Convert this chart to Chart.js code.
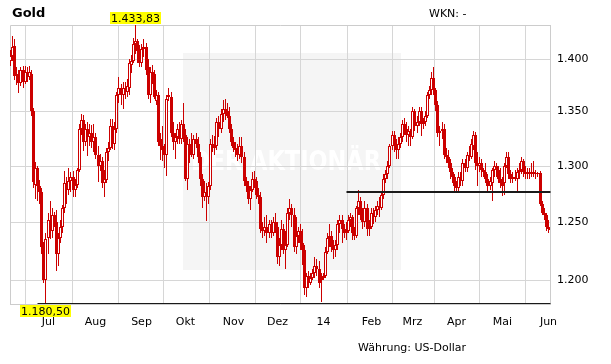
<!DOCTYPE html>
<html>
<head>
<meta charset="utf-8">
<script src="https://cdn.jsdelivr.net/npm/chart.js@4.4.1/dist/chart.umd.min.js"></script>
<style>
  html, body { margin: 0; padding: 0; background: #fff; }
  canvas { display: block; }
</style>
</head>
<body>
<canvas id="myChart" width="611" height="364" style="width:611px;height:364px"></canvas>
<script>

// Gold, daily candles, 05.06.2013 - 03.06.2014 (weekdays)
var openP = [
  1398,1403,1413,1384,1386,1377,1390,1378,1388,1383,
  1386,1350,1283,1298,1282,1276,1228,1200,1236,1252,
  1242,1256,1250,1222,1236,1246,1262,1284,1278,1286,
  1290,1278,1283,1296,1334,1342,1322,1334,1326,1330,
  1322,1326,1310,1300,1304,1284,1287,1312,1316,1336,
  1320,1334,1366,1372,1366,1372,1368,1372,1394,1398,
  1415,1418,1408,1396,1410,1412,1392,1366,1388,1386,
  1360,1366,1324,1318,1314,1310,1366,1364,1330,1322,
  1326,1334,1324,1338,1328,1288,1320,1316,1310,1324,
  1320,1308,1288,1272,1276,1272,1282,1320,1316,1318,
  1340,1334,1348,1352,1350,1346,1334,1322,1316,1314,
  1310,1318,1308,1286,1282,1270,1278,1288,1286,1274,
  1272,1244,1242,1246,1240,1248,1240,1250,1246,1220,
  1230,1244,1226,1230,1258,1262,1256,1228,1238,1242,
  1232,1226,1194,1204,1198,1202,1206,1212,1210,1200,
  1202,1204,1224,1236,1238,1228,1226,1230,1248,1252,
  1244,1240,1242,1252,1254,1240,1238,1262,1268,1256,
  1250,1262,1244,1246,1258,1254,1260,1264,1262,1274,
  1288,1292,1300,1318,1328,1320,1314,1320,1326,1338,
  1334,1328,1332,1326,1350,1336,1340,1350,1338,1340,
  1346,1366,1370,1382,1370,1356,1330,1332,1334,1310,
  1308,1302,1294,1290,1282,1280,1290,1286,1302,1298,
  1310,1308,1318,1328,1302,1300,1302,1296,1294,1288,
  1282,1284,1296,1300,1296,1288,1284,1284,1300,1308,
  1292,1288,1290,1288,1294,1296,1304,1294,1292,1294,
  1292,1294,1292,1292,1293,1266,1258,1256,1246,1244
];
var highP = [
  1409,1423,1420,1392,1390,1392,1393,1393,1392,1393,
  1390,1353,1303,1300,1287,1280,1233,1240,1258,1268,
  1262,1259,1260,1240,1252,1265,1295,1290,1298,1294,
  1295,1288,1298,1338,1348,1347,1338,1340,1338,1337,
  1338,1330,1318,1311,1308,1296,1316,1322,1343,1343,
  1340,1368,1383,1376,1378,1378,1381,1400,1404,1421,
  1433.83,1420,1414,1415,1420,1416,1400,1392,1394,1390,
  1370,1368,1330,1336,1320,1366,1372,1368,1340,1330,
  1338,1340,1342,1358,1334,1326,1324,1330,1328,1330,
  1326,1312,1292,1286,1284,1285,1324,1328,1327,1344,
  1346,1352,1361,1362,1358,1354,1338,1326,1322,1320,
  1326,1326,1312,1290,1286,1282,1294,1295,1290,1280,
  1276,1250,1254,1256,1252,1252,1254,1258,1250,1236,
  1252,1248,1242,1262,1270,1266,1262,1254,1246,1248,
  1244,1230,1206,1208,1206,1210,1220,1218,1216,1206,
  1206,1228,1240,1248,1242,1234,1234,1252,1256,1256,
  1248,1250,1256,1258,1256,1246,1264,1278,1272,1262,
  1268,1266,1252,1262,1262,1264,1268,1272,1276,1292,
  1296,1304,1320,1332,1332,1324,1326,1330,1342,1344,
  1340,1336,1334,1354,1352,1346,1354,1354,1344,1350,
  1368,1374,1388,1392,1372,1360,1336,1340,1338,1316,
  1314,1306,1298,1292,1286,1294,1294,1306,1306,1312,
  1318,1324,1332,1331,1312,1308,1306,1298,1302,1292,
  1290,1298,1304,1302,1300,1298,1290,1302,1312,1312,
  1296,1294,1296,1298,1302,1308,1306,1300,1298,1298,
  1302,1304,1296,1294,1295,1268,1262,1258,1252,1246
];
var lowP = [
  1393,1398,1380,1375,1367,1374,1372,1376,1378,1380,
  1346,1280,1270,1268,1266,1222,1198,1180.5,1222,1235,
  1236,1246,1208,1212,1232,1240,1258,1266,1274,1276,
  1272,1272,1280,1294,1328,1313,1318,1309,1318,1316,
  1312,1306,1285,1295,1280,1272,1284,1304,1314,1315,
  1314,1330,1358,1356,1352,1362,1364,1366,1387,1396,
  1405,1396,1392,1392,1402,1385,1362,1358,1376,1362,
  1356,1318,1305,1304,1298,1291,1360,1326,1314,1306,
  1320,1320,1320,1322,1286,1278,1302,1308,1306,1316,
  1302,1282,1262,1268,1251,1266,1278,1312,1310,1314,
  1326,1330,1340,1342,1344,1330,1318,1312,1308,1304,
  1306,1302,1282,1276,1266,1260,1276,1280,1270,1266,
  1240,1236,1238,1232,1236,1236,1238,1240,1214,1212,
  1226,1222,1210,1228,1252,1246,1224,1222,1232,1226,
  1213,1188,1186,1194,1196,1200,1202,1204,1194,1182,
  1200,1202,1222,1228,1224,1218,1220,1226,1240,1232,
  1236,1234,1240,1246,1234,1234,1236,1256,1252,1244,
  1246,1238,1238,1244,1248,1250,1256,1254,1260,1270,
  1284,1288,1298,1314,1312,1306,1306,1316,1322,1328,
  1322,1318,1318,1324,1332,1330,1336,1327,1334,1336,
  1344,1362,1366,1366,1350,1326,1318,1324,1306,1302,
  1298,1288,1284,1276,1276,1276,1282,1282,1294,1294,
  1304,1306,1314,1296,1282,1294,1290,1290,1284,1276,
  1278,1268,1290,1290,1284,1280,1273,1274,1298,1288,
  1284,1284,1286,1276,1288,1292,1290,1288,1288,1288,
  1290,1290,1288,1290,1264,1256,1252,1242,1240,1240
];
var closeP = [
  1403,1412,1384,1386,1377,1390,1378,1388,1383,1388,
  1350,1285,1298,1282,1276,1228,1200,1235,1252,1242,
  1256,1250,1222,1236,1246,1262,1284,1278,1286,1290,
  1278,1283,1296,1334,1342,1322,1334,1326,1330,1322,
  1326,1310,1300,1304,1284,1288,1312,1316,1336,1320,
  1334,1366,1372,1366,1372,1368,1374,1396,1398,1415,
  1418,1408,1396,1410,1412,1390,1366,1388,1386,1364,
  1366,1322,1318,1314,1310,1362,1364,1330,1322,1326,
  1334,1324,1338,1328,1288,1320,1316,1310,1324,1320,
  1308,1288,1272,1276,1272,1282,1320,1316,1318,1340,
  1334,1348,1352,1350,1346,1334,1322,1316,1314,1310,
  1318,1308,1286,1282,1270,1278,1288,1286,1274,1272,
  1244,1242,1246,1240,1248,1240,1250,1246,1220,1230,
  1244,1226,1230,1258,1262,1256,1228,1238,1242,1232,
  1226,1194,1204,1198,1202,1206,1212,1210,1198,1202,
  1204,1224,1236,1238,1228,1226,1230,1248,1252,1244,
  1240,1242,1252,1254,1240,1238,1262,1268,1256,1250,
  1262,1244,1246,1258,1254,1260,1264,1262,1274,1288,
  1292,1300,1318,1328,1320,1314,1320,1326,1338,1334,
  1328,1332,1326,1350,1336,1340,1350,1338,1340,1346,
  1366,1370,1382,1370,1356,1330,1332,1334,1310,1308,
  1302,1294,1290,1282,1280,1290,1286,1302,1298,1310,
  1308,1320,1328,1302,1300,1302,1296,1294,1288,1282,
  1286,1296,1300,1296,1288,1284,1282,1300,1308,1292,
  1288,1290,1288,1294,1296,1304,1294,1292,1294,1292,
  1294,1292,1292,1293,1266,1258,1256,1246,1244,1243
];

// first trading day of each month (index into the arrays above)
var monthLabels = ["Jul", "Aug", "Sep", "Okt", "Nov", "Dez", "14", "Feb", "Mrz", "Apr", "Mai", "Jun"];
var monthStart = [18, 41, 63, 84, 107, 128, 150, 173, 193, 214, 236, 258];
var yTicks = [1200, 1250, 1300, 1350, 1400];

// horizontal lines: level and the candle where they start
var lowLine = { level: 1180.5, from: 13 };
var supportLine = { level: 1276.5, from: 161 };

var red = "#cc0000";
var yMin = Math.min.apply(null, lowP);
var yMax = Math.max.apply(null, highP);

// scales that snap to whole pixels so the candles stay crisp
class SnapCategory extends Chart.CategoryScale {
    getPixelForValue(v) { return Math.round(super.getPixelForValue(v)) + 0.5; }
}
SnapCategory.id = "snapCategory";
SnapCategory.defaults = Chart.CategoryScale.defaults;

class SnapLog extends Chart.LogarithmicScale {
    getPixelForValue(v) { return Math.round(super.getPixelForValue(v)); }
}
SnapLog.id = "snapLog";
SnapLog.defaults = Chart.LogarithmicScale.defaults;

Chart.register(SnapCategory, SnapLog);

function deNum(v, dec) {
    var parts = v.toFixed(dec).split(".");
    parts[0] = parts[0].replace(/\B(?=(\d{3})+(?!\d))/g, ".");
    return parts.join(",");
}

function levelData(line) {
    return closeP.map(function (_, i) { return i >= line.from ? line.level : null; });
}

var watermark = {
    id: "watermark",
    beforeDraw: function (chart) {
        var ctx = chart.ctx, a = chart.chartArea;
        ctx.save();
        ctx.fillStyle = "#f5f5f5";
        ctx.fillRect(a.left + 173, a.top + 28, 218, 217);
        ctx.fillStyle = "#ffffff";
        ctx.font = 'bold 27px "Liberation Sans Narrow", "DejaVu Sans Condensed", sans-serif';
        ctx.textAlign = "center";
        ctx.textBaseline = "middle";
        ctx.fillText("DER AKTIONÄR", a.left + 276, a.top + 138, 190);
        ctx.restore();
    }
};

var frame = {
    id: "frame",
    beforeDatasetsDraw: function (chart) {
        var ctx = chart.ctx, a = chart.chartArea;
        ctx.save();
        ctx.strokeStyle = "#cccccc";
        ctx.lineWidth = 1;
        ctx.beginPath();
        ctx.moveTo(a.left + 0.5, a.bottom);
        ctx.lineTo(a.left + 0.5, a.top + 0.5);
        ctx.lineTo(a.right, a.top + 0.5);
        ctx.stroke();
        ctx.restore();
    },
    afterDraw: function (chart) {
        var ctx = chart.ctx, a = chart.chartArea, x = chart.scales.x;
        ctx.save();
        ctx.fillStyle = "#000";
        ctx.textBaseline = "alphabetic";
        ctx.font = "bold 13px 'DejaVu Sans'";
        ctx.fillText("Gold", 12, 17);
        ctx.font = "11px 'DejaVu Sans'";
        ctx.fillText("WKN: -", 429, 17);
        ctx.fillText("Währung: US-Dollar", 358, 351);

        var hi = highP.indexOf(yMax), lo = lowP.indexOf(yMin);
        var tags = [
            { text: deNum(yMax, 2), x: x.getPixelForValue(hi), top: a.top - 13 },
            { text: deNum(yMin, 2), x: x.getPixelForValue(lo), top: a.bottom + 1 }
        ];
        tags.forEach(function (t) {
            var w = ctx.measureText(t.text).width + 2;
            ctx.fillStyle = "#ffff00";
            ctx.fillRect(Math.round(t.x - w / 2), t.top, Math.round(w), 12);
            ctx.fillStyle = "#000";
            ctx.textAlign = "center";
            ctx.fillText(t.text, t.x, t.top + 10);
        });
        ctx.restore();
    }
};

Chart.defaults.font.family = "'DejaVu Sans'";
Chart.defaults.font.size = 11;
Chart.defaults.color = "#000";

var ctx = document.getElementById("myChart").getContext("2d");

var myChart = new Chart(ctx, {
    type: "bar",
    data: {
        labels: closeP.map(function (_, i) { return i; }),
        datasets: [
            {
                type: "line",
                data: levelData(lowLine),
                borderColor: "#1a1a1a",
                borderWidth: 2,
                pointRadius: 0,
                order: 0
            },
            {
                type: "line",
                data: levelData(supportLine),
                borderColor: "#1a1a1a",
                borderWidth: 2,
                pointRadius: 0,
                order: 0
            },
            {
                data: openP.map(function (o, i) { return [o, closeP[i]]; }),
                backgroundColor: openP.map(function (o, i) { return closeP[i] >= o ? "#ffffff" : red; }),
                borderColor: red,
                borderWidth: 1,
                borderSkipped: false,
                inflateAmount: 0,
                barThickness: 3,
                grouped: false,
                order: 1
            },
            {
                data: lowP.map(function (l, i) { return [l, highP[i]]; }),
                backgroundColor: red,
                borderColor: red,
                borderWidth: 0,
                inflateAmount: 0,
                barThickness: 1,
                grouped: false,
                order: 2
            }
        ]
    },
    options: {
        responsive: false,
        animation: false,
        devicePixelRatio: 1,
        layout: { padding: { left: 10, top: 25, right: 0, bottom: 0 } },
        plugins: {
            legend: { display: false },
            tooltip: { enabled: false }
        },
        scales: {
            x: {
                type: "snapCategory",
                offset: false,
                grid: { color: "#d6d6d6", drawTicks: false },
                border: { color: "#cccccc" },
                afterBuildTicks: function (scale) {
                    scale.ticks = monthStart.map(function (v) { return { value: v }; });
                },
                afterFit: function (scale) { scale.height = 60; },
                ticks: {
                    autoSkip: false,
                    maxRotation: 0,
                    padding: 12,
                    callback: function (value, index) { return monthLabels[index]; }
                }
            },
            y: {
                type: "snapLog",
                position: "right",
                min: yMin,
                max: yMax,
                grid: { color: "#d6d6d6", drawTicks: false },
                border: { color: "#cccccc" },
                afterBuildTicks: function (scale) {
                    scale.ticks = yTicks.map(function (v) { return { value: v }; });
                },
                afterFit: function (scale) { scale.width = 61; },
                ticks: {
                    padding: 7,
                    callback: function (value) { return deNum(value, 0); }
                }
            }
        }
    },
    plugins: [watermark, frame]
});
</script>
</body>
</html>
